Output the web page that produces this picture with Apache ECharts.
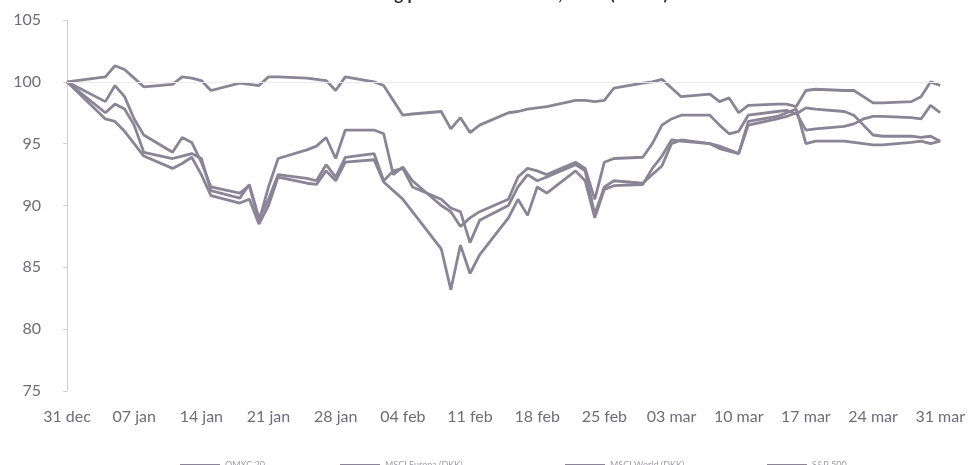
<!DOCTYPE html>
<html>
<head>
<meta charset="utf-8">
<script src="https://cdn.jsdelivr.net/npm/echarts@6/dist/echarts.min.js"></script>
<style>
  html, body { margin: 0; padding: 0; background: #fff; }
  #chart { width: 968px; height: 465px; }
</style>
</head>
<body>
<div id="chart"></div>
<script>
// Trading days, counted in calendar days from 31 Dec 2015
const dayOffsets = [0, 4, 5, 6, 7, 8, 11, 12, 13, 14, 15, 18, 19, 20, 21, 22, 25, 26, 27, 28, 29,
  32, 33, 34, 35, 36, 39, 40, 41, 42, 43, 46, 47, 48, 49, 50, 53, 54, 55, 56, 57,
  60, 61, 62, 63, 64, 67, 68, 69, 70, 71, 74, 75, 76, 77, 78, 81, 82, 83, 84, 85, 88, 89, 90, 91];

// Weekly tick labels (every 7 days)
const weekLabels = ['31 dec', '07 jan', '14 jan', '21 jan', '28 jan', '04 feb', '11 feb',
  '18 feb', '25 feb', '03 mar', '10 mar', '17 mar', '24 mar', '31 mar'];

const seriesNames = ['OMXC 20', 'MSCI Europa (DKK)', 'MSCI World (DKK)', 'S&P 500'];

// Index values, 31/12 = 100
const omxc20 = [100, 100.4, 101.3, 101.0, 100.3, 99.6, 99.8, 100.4, 100.3, 100.1, 99.3, 99.9, 99.8, 99.7, 100.4, 100.4, 100.3, 100.2, 100.1, 99.3, 100.4,
  100.0, 99.7, 98.5, 97.3, 97.4, 97.6, 96.2, 97.1, 95.9, 96.5, 97.5, 97.6, 97.8, 97.9, 98.0, 98.5, 98.5, 98.4, 98.5, 99.5,
  99.9, 100.0, 100.2, 99.5, 98.8, 99.0, 98.4, 98.7, 97.5, 98.1, 98.2, 98.2, 98.0, 99.3, 99.4, 99.3, 99.3, 98.8, 98.3, 98.3, 98.4, 98.8, 100.0, 99.7];
const msciEurope = [100, 98.4, 99.7, 98.8, 97.0, 95.7, 94.3, 95.5, 95.1, 93.5, 91.5, 91.0, 91.6, 88.7, 91.5, 93.8, 94.5, 94.8, 95.5, 93.8, 96.1,
  96.1, 95.8, 92.5, 93.1, 92.0, 90.0, 89.5, 88.3, 89.0, 89.5, 90.5, 92.3, 93.0, 92.8, 92.5, 93.5, 93.0, 90.5, 93.5, 93.8,
  93.9, 95.0, 96.5, 97.0, 97.3, 97.3, 96.5, 95.8, 96.0, 97.3, 97.6, 97.7, 97.4, 97.9, 97.8, 97.6, 97.3, 96.5, 95.7, 95.6, 95.6, 95.5, 95.6, 95.2];
const msciWorld = [100, 97.5, 98.2, 97.8, 96.5, 94.3, 93.8, 94.0, 94.2, 93.8, 91.2, 90.6, 91.7, 89.0, 90.5, 92.5, 92.2, 92.0, 93.3, 92.3, 93.9,
  94.2, 92.0, 92.8, 93.0, 91.5, 90.5, 89.8, 89.5, 87.0, 88.8, 90.0, 91.5, 92.5, 92.0, 92.3, 93.3, 92.8, 89.3, 91.5, 92.0,
  91.8, 92.5, 93.2, 95.0, 95.3, 95.0, 94.6, 94.4, 94.2, 96.5, 97.0, 97.2, 97.5, 96.1, 96.2, 96.4, 96.6, 97.0, 97.2, 97.2, 97.1, 97.0, 98.1, 97.5];
const sp500 = [100, 97.0, 96.8, 96.0, 95.0, 94.0, 93.0, 93.4, 93.9, 92.5, 90.8, 90.2, 90.5, 88.5, 90.0, 92.3, 91.8, 91.7, 92.8, 92.0, 93.5,
  93.7, 91.9, 91.2, 90.5, 89.5, 86.5, 83.2, 86.8, 84.5, 86.0, 89.0, 90.5, 89.2, 91.5, 91.0, 92.8, 92.0, 89.0, 91.3, 91.6,
  91.7, 93.0, 94.0, 95.3, 95.2, 95.0, 94.8, 94.5, 94.2, 96.8, 97.2, 97.5, 97.8, 95.0, 95.2, 95.2, 95.1, 95.0, 94.9, 94.9, 95.1, 95.2, 95.0, 95.2];

const lineColor = '#8a8596';
const allSeries = [omxc20, msciEurope, msciWorld, sp500];

const chart = echarts.init(document.getElementById('chart'));

// Each legend entry sits at its own horizontal position
const legendLefts = [175, 335, 560, 762];

chart.setOption({
  animation: false,
  title: {
    text: 'Kursudvikling på aktiemarkederne, 2016 (indeks)',
    left: 'center',
    top: -19,
    textStyle: { fontFamily: 'Lato', fontSize: 17, fontWeight: 'bold', color: '#2b2b2b' }
  },
  grid: { left: 67, right: 17, top: 20, bottom: 74 },
  legend: seriesNames.map((name, i) => ({
    data: [name],
    left: legendLefts[i],
    top: 456,
    icon: 'rect',
    itemWidth: 40,
    itemHeight: 3,
    itemStyle: { color: lineColor },
    textStyle: { fontSize: 9, color: '#a09cab', fontFamily: 'Lato' }
  })),
  xAxis: {
    type: 'value',
    min: 0,
    max: 91,
    interval: 7,
    axisLine: { show: false },
    axisTick: { show: false },
    splitLine: { show: false },
    axisLabel: {
      margin: 18,
      fontFamily: 'Lato',
      fontSize: 16,
      color: '#6f6b7a',
      formatter: v => weekLabels[Math.round(v / 7)] || ''
    }
  },
  yAxis: {
    type: 'value',
    min: 75,
    max: 105,
    interval: 5,
    offset: 4,
    axisLine: { show: true, lineStyle: { color: '#cfcdd6', width: 1 } },
    axisTick: { show: true, length: 4, lineStyle: { color: '#cfcdd6' } },
    splitLine: { show: false },
    axisLabel: { margin: 22, fontFamily: 'Lato', fontSize: 16, color: '#6f6b7a' }
  },
  series: allSeries.map((vals, i) => ({
    name: seriesNames[i],
    type: 'line',
    data: dayOffsets.map((d, k) => [d, vals[k]]),
    symbol: 'none',
    lineStyle: { color: lineColor, width: 2.8 },
    itemStyle: { color: lineColor },
    markLine: i === 0 ? {
      silent: true,
      symbol: 'none',
      label: { show: false },
      lineStyle: { color: '#ebeaee', type: 'solid', width: 1 },
      data: [{ yAxis: 100 }]
    } : undefined
  }))
});
</script>
</body>
</html>
